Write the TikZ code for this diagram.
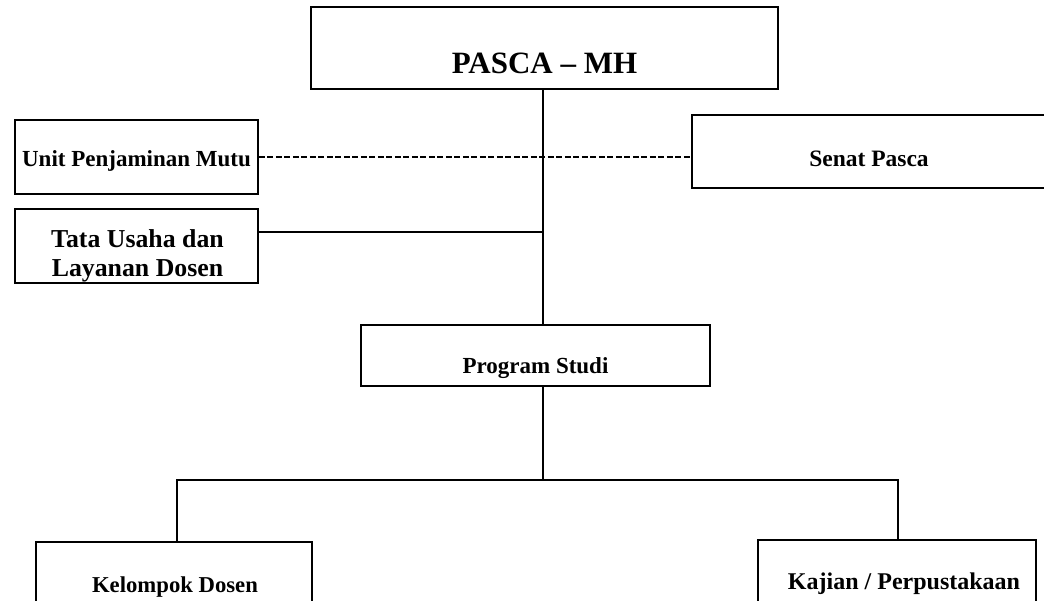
\documentclass[tikz,border=0pt]{standalone}
\usepackage{fontspec}
\setmainfont{Liberation Serif}
\begin{document}
\begin{tikzpicture}[x=1pt,y=-1pt,
  box/.style={draw=black, line width=1.7pt, fill=white, inner sep=0pt},
  lbl/.style={font=\bfseries\fontsize{#1}{29}\selectfont, align=center, inner sep=0pt},
  lbl/.default=23,
  link/.style={line width=1.7pt},
  dotlink/.style={line width=1.3pt, dash pattern=on 6pt off 2.5pt}]
\useasboundingbox (0,0) rectangle (1044,600);
\clip (0,0) rectangle (1044,600);
\fill[white] (0,0) rectangle (1044,600);

% boxes
\node[box, minimum width=467pt, minimum height=82pt,
  label={[lbl=31, name=pascaT, yshift=-15pt]center:PASCA -- MH}] (pasca) at (544.5,48) {};
\node[box, minimum width=243pt, minimum height=74pt,
  label={[lbl, name=upmT, yshift=-3.5pt]center:Unit Penjaminan Mutu}] (upm) at (136.5,157) {};
\node[box, minimum width=370pt, minimum height=73pt,
  label={[lbl=23.5, name=senatT, yshift=-7pt, xshift=-8pt]center:Senat Pasca}] (senat) at (877,151.5) {};
\node[box, minimum width=243pt, minimum height=74pt,
  label={[lbl=25.8, name=tataT, yshift=-10pt, xshift=1pt]center:Tata Usaha dan\\Layanan Dosen}] (tata) at (136.5,246) {};
\node[box, minimum width=349pt, minimum height=61pt,
  label={[lbl, name=prodiT, yshift=-13pt, xshift=0pt]center:Program Studi}] (prodi) at (535.5,355.5) {};
\node[box, minimum width=276pt, minimum height=90pt,
  label={[lbl=22.7, name=kelT, yshift=0pt, xshift=1pt]center:Kelompok Dosen}] (kel) at (174,587) {};
\node[box, minimum width=278pt, minimum height=90pt,
  label={[lbl=24, name=kajT, yshift=1pt, xshift=7pt]center:Kajian / Perpustakaan}] (kaj) at (897,585) {};

% spine and branch points
\coordinate (spine) at (543,0);
\coordinate (barL) at (177,480);
\coordinate (barR) at (898,480);

% connectors
\draw[link] (pasca.south -| spine) -- (prodi.north -| spine);
\draw[dotlink] (upm.east) -- (upm.east -| senat.west);
\draw[link] ([yshift=14pt]tata.east) -- ([yshift=14pt]tata.east -| spine);
\draw[link] (prodi.south -| spine) -- (spine |- barL);
\draw[link] (barL |- kel.north) -- (barL) -- (barR) -- (barR |- kaj.north);
\end{tikzpicture}
\end{document}
